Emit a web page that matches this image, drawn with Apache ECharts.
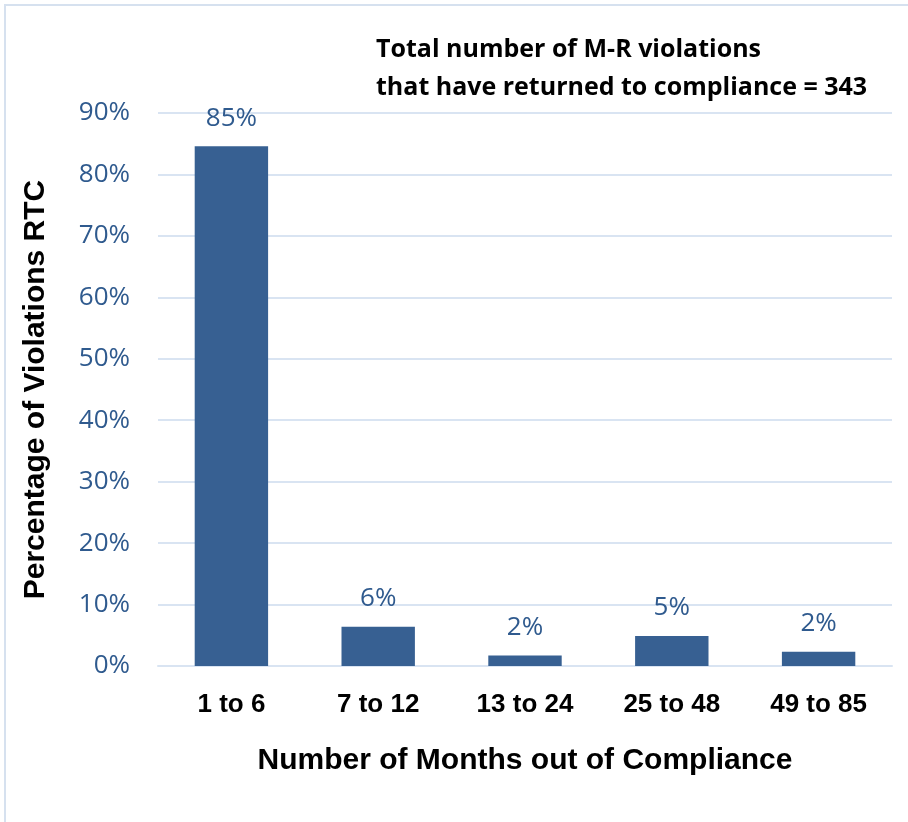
<!DOCTYPE html>
<html>
<head>
<meta charset="utf-8">
<script src="https://cdn.jsdelivr.net/npm/echarts@6/dist/echarts.min.js"></script>
<style>
  html, body { margin: 0; padding: 0; background: #fff; }
  #chart { width: 908px; height: 822px; }
</style>
</head>
<body>
<div id="chart"></div>
<script>
// months out of compliance buckets and share of violations returned to compliance
const categories = ['1 to 6', '7 to 12', '13 to 24', '25 to 48', '49 to 85']
const percentValues = [84.6, 6.4, 1.7, 4.9, 2.3]
const yTicks = [0, 10, 20, 30, 40, 50, 60, 70, 80, 90]

const chart = echarts.init(document.getElementById('chart'), null, { renderer: 'canvas' })

const blueText = '#2F5A8E'
const gridColor = '#D9E4F2'

chart.setOption({
  backgroundColor: '#fff',
  animation: false,
  graphic: [
    {
      type: 'rect',
      shape: { x: 5, y: 5, width: 920, height: 830 },
      style: { fill: 'none', stroke: '#D6E1EF', lineWidth: 2 },
      silent: true,
    },
    {
      type: 'text',
      left: 376,
      top: 31,
      style: {
        text: 'Total number of M-R violations\nthat have returned to compliance = 343',
        font: 'bold 25px "Open Sans", sans-serif',
        fill: '#000',
        lineHeight: 38,
      },
    },
  ],
  grid: { left: 158, right: 16, top: 113, bottom: 156 },
  xAxis: {
    type: 'category',
    data: categories,
    axisLine: { show: true, lineStyle: { color: gridColor, width: 2 } },
    axisTick: { show: false },
    axisLabel: {
      color: '#000',
      fontSize: 26,
      fontWeight: 'bold',
      fontFamily: 'Liberation Sans, sans-serif',
      margin: 26,
    },
    name: 'Number of Months out of Compliance',
    nameLocation: 'middle',
    nameGap: 80,
    nameTextStyle: {
      color: '#000',
      fontSize: 30,
      fontWeight: 'bold',
      fontFamily: 'Liberation Sans, sans-serif',
    },
  },
  yAxis: {
    type: 'value',
    min: 0,
    max: yTicks[yTicks.length - 1],
    interval: 10,
    axisLine: { show: false },
    axisTick: { show: false },
    splitLine: { lineStyle: { color: gridColor, width: 2 } },
    axisLabel: {
      color: blueText,
      fontSize: 26,
      fontFamily: 'Open Sans, sans-serif',
      margin: 28,
      formatter: (v) => v + '%',
    },
    name: 'Percentage of Violations RTC',
    nameLocation: 'middle',
    nameGap: 107,
    nameTextStyle: {
      color: '#000',
      fontSize: 30,
      fontWeight: 'bold',
      fontFamily: 'Liberation Sans, sans-serif',
    },
  },
  series: [
    {
      type: 'bar',
      data: percentValues,
      barWidth: '50%',
      itemStyle: { color: '#376092' },
      label: {
        show: true,
        position: 'top',
        distance: 15,
        color: blueText,
        fontSize: 26,
        fontFamily: 'Open Sans, sans-serif',
        formatter: (p) => Math.round(p.value) + '%',
      },
    },
  ],
})
</script>
</body>
</html>
